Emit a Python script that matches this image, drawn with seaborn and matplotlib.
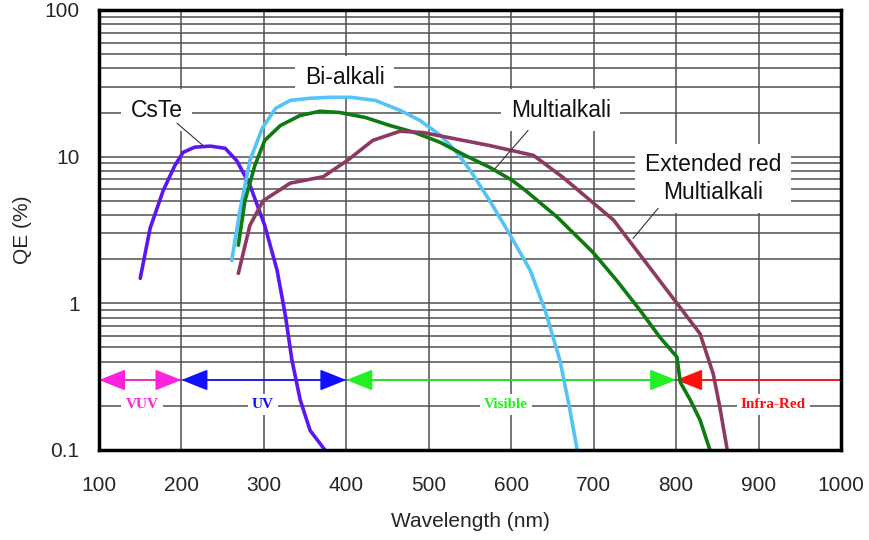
import matplotlib
matplotlib.use("Agg")
import matplotlib.pyplot as plt
import seaborn as sns
import pandas as pd
from matplotlib.ticker import FixedLocator, NullFormatter

# QE curves (wavelength nm, QE %)
cste_nm = [150, 162, 178, 192, 202, 216, 235, 253, 267, 283, 301, 316, 326, 334, 344, 356, 374]
cste_qe = [1.48, 3.25, 5.9, 8.7, 10.7, 11.6, 11.8, 11.4, 9.4, 6.4, 3.4, 1.68, 0.83, 0.41, 0.22, 0.136, 0.1]

bialk_nm = [261, 271, 283, 298, 314, 332, 356, 380, 405, 435, 465, 489, 514, 532, 550, 574, 599, 623, 641, 659, 671, 680]
bialk_qe = [1.96, 4.3, 9.4, 15.6, 21.3, 24.2, 25.0, 25.4, 25.4, 24.2, 20.7, 17.7, 14.0, 11.0, 8.1, 5.0, 2.9, 1.68, 0.9, 0.41, 0.19, 0.1]

multi_nm = [269, 277, 289, 301, 320, 344, 368, 392, 423, 453, 483, 514, 544, 574, 601, 617, 656, 699, 728, 756, 780, 801, 805, 817, 829, 841]
multi_qe = [2.49, 5.0, 8.7, 12.9, 16.3, 19.1, 20.4, 20.0, 18.5, 16.3, 14.6, 12.5, 10.2, 8.45, 6.9, 5.9, 3.86, 2.23, 1.43, 0.9, 0.59, 0.43, 0.29, 0.22, 0.16, 0.1]

ered_nm = [269, 283, 299, 332, 372, 401, 432, 465, 493, 574, 601, 627, 663, 724, 801, 829, 845, 853, 862]
ered_qe = [1.6, 3.4, 5.0, 6.6, 7.3, 9.4, 12.9, 14.9, 14.6, 11.9, 11.0, 10.2, 7.2, 3.7, 1.0, 0.62, 0.33, 0.196, 0.1]

series_names = ["CsTe", "Bi-alkali", "Multialkali", "Extended red Multialkali"]
series_colors = ["#5a18f0", "#55c4f5", "#0d7a12", "#8c3a62"]

# spectral band arrows at QE = 0.3
band_names = ["VUV", "UV", "Visible", "Infra-Red"]
band_start = [100, 200, 400, 1000]
band_end = [200, 400, 800, 800]
band_label_x = [152, 299, 594, 918]
band_colors = ["#ff22dd", "#1010ff", "#22f022", "#ff1010"]

x_ticks = [100, 200, 300, 400, 500, 600, 700, 800, 900, 1000]
y_ticks = [0.1, 1, 10, 100]
y_tick_labels = ["0.1", "1", "10", "100"]

frames = []
for name, nm, qe in zip(series_names,
                        [cste_nm, bialk_nm, multi_nm, ered_nm],
                        [cste_qe, bialk_qe, multi_qe, ered_qe]):
    frames.append(pd.DataFrame({"nm": nm, "qe": qe, "curve": name}))
df = pd.concat(frames, ignore_index=True)

sns.set_style("white")
plt.rcParams["font.family"] = ["Liberation Sans", "DejaVu Sans"]

fig = plt.figure(figsize=(8.7, 5.4), dpi=100)
ax = fig.add_axes([0.1138, 0.1667, 0.9667 - 0.1138, 0.9815 - 0.1667])

ax.set_yscale("log")
ax.set_xlim(100, 1000)
ax.set_ylim(0.1, 100)

# grid: vertical every 100 nm, horizontal at every 1..9 x decade
minor_y = [m * 10.0 ** e for e in (-1, 0, 1) for m in range(1, 10)]
for yv in minor_y:
    ax.axhline(yv, color="#505050", lw=1.1, zorder=1)
for xv in x_ticks:
    ax.axvline(xv, color="#505050", lw=1.1, zorder=1)

sns.lineplot(data=df, x="nm", y="qe", hue="curve", hue_order=series_names,
             palette=series_colors, sort=False, estimator=None, lw=2.6,
             legend=False, ax=ax, zorder=4)

# band arrows
for name, x0, x1, lx, c in zip(band_names, band_start, band_end, band_label_x, band_colors):
    style = "-|>" if name == "Infra-Red" else "<|-|>"
    ax.annotate("", xy=(x1, 0.3), xytext=(x0, 0.3),
                arrowprops=dict(arrowstyle=style + ",head_length=0.75,head_width=0.3",
                                color=c, lw=1.2, mutation_scale=22,
                                shrinkA=0, shrinkB=0),
                zorder=3)
    ax.text(lx, 0.205, name, color=c, fontsize=11, fontweight="bold",
            family=["Liberation Serif", "DejaVu Serif"], ha="center", va="center",
            bbox=dict(facecolor="white", edgecolor="none", pad=3), zorder=3)

# curve labels with white boxes and leader lines
label_kw = dict(fontsize=16.5, ha="center", va="center", color="#111111",
                bbox=dict(facecolor="white", edgecolor="none", pad=7), zorder=3)
ax.text(170, 20.7, "CsTe", **label_kw)
ax.text(398, 34.9, "Bi-alkali", **label_kw)
ax.text(660, 20.7, "Multialkali", **label_kw)
ax.text(845, 7.1, "Extended red\nMultialkali", linespacing=1.25, **label_kw)

lead = dict(color="#333333", lw=0.8, zorder=5)
ax.plot([194.6, 226.2], [16.9, 11.9], **lead)
ax.plot([620.4, 580.4], [15.1, 8.3], **lead)
ax.plot([778.1, 747.7], [4.44, 2.77], **lead)

ax.xaxis.set_major_locator(FixedLocator(x_ticks))
ax.yaxis.set_major_locator(FixedLocator(y_ticks))
ax.set_yticklabels(y_tick_labels)
ax.yaxis.set_minor_formatter(NullFormatter())
ax.tick_params(axis="x", which="both", length=0, labelsize=15, pad=19)
ax.tick_params(axis="y", which="both", length=0, labelsize=15, pad=14)

ax.set_xlabel("Wavelength (nm)", fontsize=15, labelpad=12)
ax.set_ylabel("QE (%)", fontsize=15, labelpad=9)

for sp in ax.spines.values():
    sp.set_visible(True)
    sp.set_color("black")
    sp.set_linewidth(2.5)
    sp.set_zorder(6)

fig.savefig("out.png", dpi=100, facecolor="white")
